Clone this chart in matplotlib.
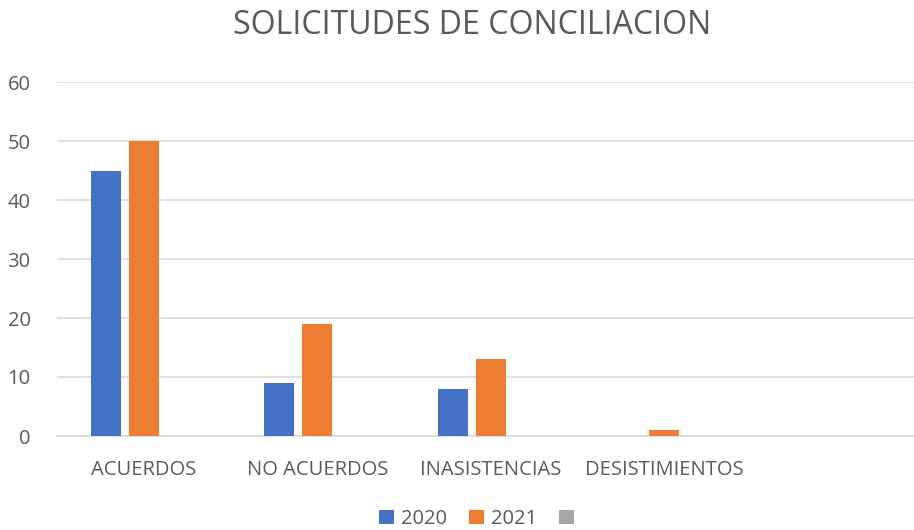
import matplotlib.pyplot as plt
import numpy as np

plt.rcParams['font.family'] = ['Open Sans', 'DejaVu Sans']

categories = ["ACUERDOS", "NO ACUERDOS", "INASISTENCIAS", "DESISTIMIENTOS", ""]
values_2020 = [45, 9, 8, 0, 0]
values_2021 = [50, 19, 13, 1, 0]
values_blank = [0, 0, 0, 0, 0]
series_names = ["2020", "2021", " "]

colors = ["#4472C4", "#ED7D31", "#A5A5A5"]
text_color = "#595959"

fig = plt.figure(figsize=(9.14, 5.30), dpi=100)
# axes in pixel terms: left 57, right 914, top 82, bottom 436
ax = fig.add_axes([57 / 914, 1 - 436 / 530, (914 - 57) / 914, (436 - 82) / 530])

x = np.arange(len(categories))
width = 0.173
offsets = [-0.219, 0.0, 0.219]
handles = []
for vals, off, col, name in zip([values_2020, values_2021, values_blank], offsets, colors, series_names):
    h = ax.bar(x + off, vals, width=width, color=col, label=name, zorder=3)
    handles.append(h)

ax.set_ylim(0, 60)
ax.set_yticks(range(0, 61, 10))
ax.set_xlim(-0.5, -0.5 + (914 - 57) / 173.5)
ax.set_xticks(x)
ax.set_xticklabels(categories)

ax.grid(axis="y", color="#D9D9D9", linewidth=1.2, zorder=0)
for side in ["top", "right", "left"]:
    ax.spines[side].set_visible(False)
ax.spines["bottom"].set_color("#D9D9D9")
ax.spines["bottom"].set_linewidth(1.2)
ax.tick_params(axis="both", length=0, colors=text_color, labelsize=14.5)
ax.tick_params(axis="x", pad=17)
ax.tick_params(axis="y", pad=19)

fig.text(0.517, 1 - 26 / 530, "SOLICITUDES DE CONCILIACION", ha="center", va="center",
         fontsize=23, color=text_color)

fig.legend(handles=handles, labels=series_names, loc="center", bbox_to_anchor=(0.528, 1 - 519 / 530),
           ncol=3, frameon=False, fontsize=14.5, labelcolor=text_color,
           handlelength=0.75, handleheight=0.75, handletextpad=0.35, columnspacing=1.1)

fig.savefig("out.png", dpi=100)
